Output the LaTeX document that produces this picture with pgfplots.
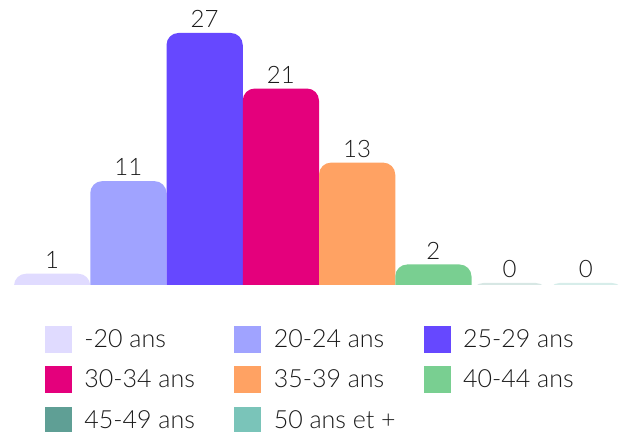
\documentclass[border=0pt]{standalone}
\usepackage{pgfplots}
\pgfplotsset{compat=1.18}
\usepackage{fontspec}
\IfFontExistsTF{Lato Light}{\setmainfont{Lato Light}}{\setmainfont{Lato}}

\definecolor{c1}{HTML}{E0DBFF}
\definecolor{c2}{HTML}{A0A3FF}
\definecolor{c3}{HTML}{6648FF}
\definecolor{c4}{HTML}{E4007C}
\definecolor{c5}{HTML}{FFA263}
\definecolor{c6}{HTML}{79CF91}
\definecolor{c7}{HTML}{5F9F95}
\definecolor{c8}{HTML}{7AC4B9}
\definecolor{ink}{HTML}{1A1A1A}

% bar with rounded top, reaching far down; the axis clips it at the baseline
\pgfdeclareplotmark{tbar}{%
  \pgfpathmoveto{\pgfqpoint{-38.125pt}{-400pt}}%
  \pgfpathlineto{\pgfqpoint{-38.125pt}{-12pt}}%
  \pgfpatharc{180}{90}{12pt}%
  \pgfpathlineto{\pgfqpoint{26.125pt}{0pt}}%
  \pgfpatharc{90}{0}{12pt}%
  \pgfpathlineto{\pgfqpoint{38.125pt}{-400pt}}%
  \pgfpathclose
  \pgfusepathqfill
}

\newcommand{\legtext}[1]{\makebox[163pt][l]{\hspace{13pt}#1}}

\begin{document}
\begin{tikzpicture}
\begin{axis}[
    name=ax,
    hide axis,
    x=76.25pt, y=9.26pt,
    xmin=-0.5, xmax=7.5,
    ymin=-0.15, ymax=30.56,
    clip marker paths=true,
    /pgf/number format/assume math mode=true,
    bar/.style={only marks, mark=tbar, nodes near coords},
    every node near coord/.append style={text=ink, font=\fontsize{24}{28}\selectfont, inner sep=0pt, yshift=5pt},
    legend columns=3,
    legend image code/.code={\fill (0pt,-13pt) rectangle (26pt,13pt);},
    legend style={
        at={(0,0)}, anchor=north west, xshift=31pt, yshift=-41.6pt,
        draw=none, fill=none, inner sep=0pt, outer sep=0pt,
        font=\fontsize{25}{29}\selectfont, text=ink,
        nodes={inner sep=0pt},
        /tikz/column sep=0pt, /tikz/row sep=14pt,
        /tikz/every even column/.style={column sep=0pt},
    },
]
\addplot[bar, color=c1] coordinates {(0,1)};
\addlegendentry{\legtext{-20 ans}}
\addplot[bar, color=c2] coordinates {(1,11)};
\addlegendentry{\legtext{20-24 ans}}
\addplot[bar, color=c3] coordinates {(2,27)};
\addlegendentry{\legtext{25-29 ans}}
\addplot[bar, color=c4] coordinates {(3,21)};
\addlegendentry{\legtext{30-34 ans}}
\addplot[bar, color=c5] coordinates {(4,13)};
\addlegendentry{\legtext{35-39 ans}}
\addplot[bar, color=c6] coordinates {(5,2)};
\addlegendentry{\legtext{40-44 ans}}
\addplot[bar, color=c7, mark options={fill=c7!25}] coordinates {(6,0)};
\addlegendentry{\legtext{45-49 ans}}
\addplot[bar, color=c8, mark options={fill=c8!30}] coordinates {(7,0)};
\addlegendentry{\legtext{50 ans et +}}
\end{axis}
\pgfresetboundingbox
\path ([xshift=-14pt]ax.north west) rectangle ([xshift=4pt,yshift=-147.6pt]ax.south east);
\end{tikzpicture}
\end{document}
